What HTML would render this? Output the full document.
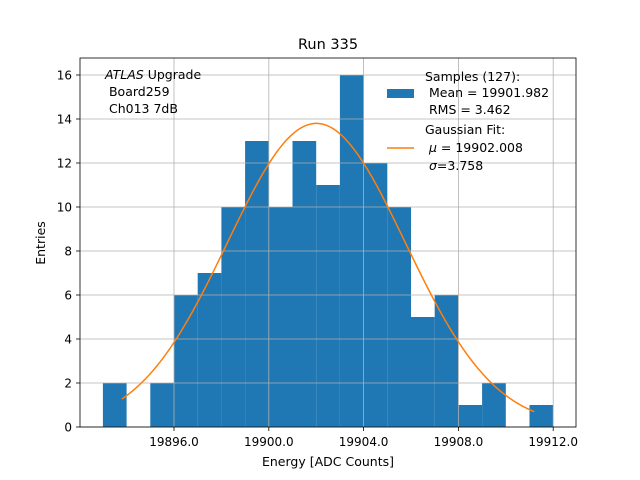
<!DOCTYPE html>
<html><head><meta charset="utf-8"><style>
body{margin:0;background:#fff}
svg{display:block;font-family:"DejaVu Sans","Liberation Sans",sans-serif}
svg text{white-space:pre}
</style></head><body>
<svg id="chart" width="640" height="480">
<rect width="640" height="480" fill="#fff"/>
<text x="328" y="49" font-size="14.5" text-anchor="middle">Run 335</text>
<g id="bars"></g>
<g id="grid"></g>
<path id="fit" fill="none" stroke="#ff7f0e" stroke-width="1.5"/>
<rect x="80" y="58" width="496" height="369" fill="none" stroke="#000" stroke-width="0.8"/>
<g id="ticks" font-size="12"></g>
<text x="328" y="466" font-size="12.5" text-anchor="middle">Energy [ADC Counts]</text>
<text transform="translate(45,243) rotate(-90)" font-size="12.5" text-anchor="middle">Entries</text>
<g font-size="12.5">
<text x="105" y="79"><tspan font-style="italic">ATLAS</tspan> Upgrade</text>
<text x="105" y="96"> Board259</text>
<text x="105" y="113"> Ch013 7dB</text>
</g>
<g font-size="12.5">
<rect x="387" y="89" width="27" height="9" fill="#1f77b4"/>
<text x="425" y="81">Samples (127):</text>
<text x="425" y="97"> Mean = 19901.982</text>
<text x="425" y="114"> RMS = 3.462</text>
<line x1="387" y1="148" x2="414" y2="148" stroke="#ff7f0e" stroke-width="1.5"/>
<text x="425" y="134">Gaussian Fit:</text>
<text x="425" y="152"> <tspan font-style="italic">μ</tspan> = 19902.008</text>
<text x="425" y="170"> <tspan font-style="italic">σ</tspan>=3.758</text>
</g>
</svg>
<script>
const binStarts=[19893,19894,19895,19896,19897,19898,19899,19900,19901,19902,19903,19904,19905,19906,19907,19908,19909,19910,19911];
const counts=[2,0,2,6,7,10,13,10,13,11,16,12,10,5,6,1,2,0,1];
const xTicks=[19896,19900,19904,19908,19912];
const xTickLabels=["19896.0","19900.0","19904.0","19908.0","19912.0"];
const yTicks=[0,2,4,6,8,10,12,14,16];
const fitAmp=13.8, fitMu=19902.008, fitSigma=3.758, fitStart=19893.8, fitEnd=19911.2;
const X=v=>174+(v-19896)*23.7;
const Y=v=>427-v*22;
const NS="http://www.w3.org/2000/svg";
function mk(t,a,p){const e=document.createElementNS(NS,t);for(const k in a)e.setAttribute(k,a[k]);p.appendChild(e);return e;}
const bars=document.getElementById('bars'),grid=document.getElementById('grid'),ticks=document.getElementById('ticks');
binStarts.forEach((b,i)=>{if(!counts[i])return;
const r=mk('rect',{x:X(b),y:Y(counts[i]),width:X(b+1)-X(b),height:Y(0)-Y(counts[i]),fill:'#1f77b4'},bars);

});
xTicks.forEach((v,i)=>{const x=X(v);
const g=mk('line',{x1:x,x2:x,y1:58,y2:427,stroke:'#b0b0b0','stroke-width':0.8},grid);


mk('line',{x1:x,x2:x,y1:427,y2:431,stroke:'#000','stroke-width':0.8},ticks);
const t=mk('text',{x:x,y:446,'text-anchor':'middle'},ticks);t.textContent=xTickLabels[i];

});
yTicks.forEach(v=>{const y=Y(v);
const g=mk('line',{x1:80,x2:576,y1:y,y2:y,stroke:'#b0b0b0','stroke-width':0.8},grid);


mk('line',{x1:76,x2:80,y1:y,y2:y,stroke:'#000','stroke-width':0.8},ticks);
const t=mk('text',{x:72,y:y+4.5,'text-anchor':'end'},ticks);t.textContent=v;

});
let d='';for(let k=0;k<=200;k++){const v=fitStart+(fitEnd-fitStart)*k/200;
const f=fitAmp*Math.exp(-Math.pow(v-fitMu,2)/(2*fitSigma*fitSigma));
d+=(k?'L':'M')+X(v).toFixed(2)+' '+Y(f).toFixed(2);}
document.getElementById('fit').setAttribute('d',d);
</script>
</body></html>
